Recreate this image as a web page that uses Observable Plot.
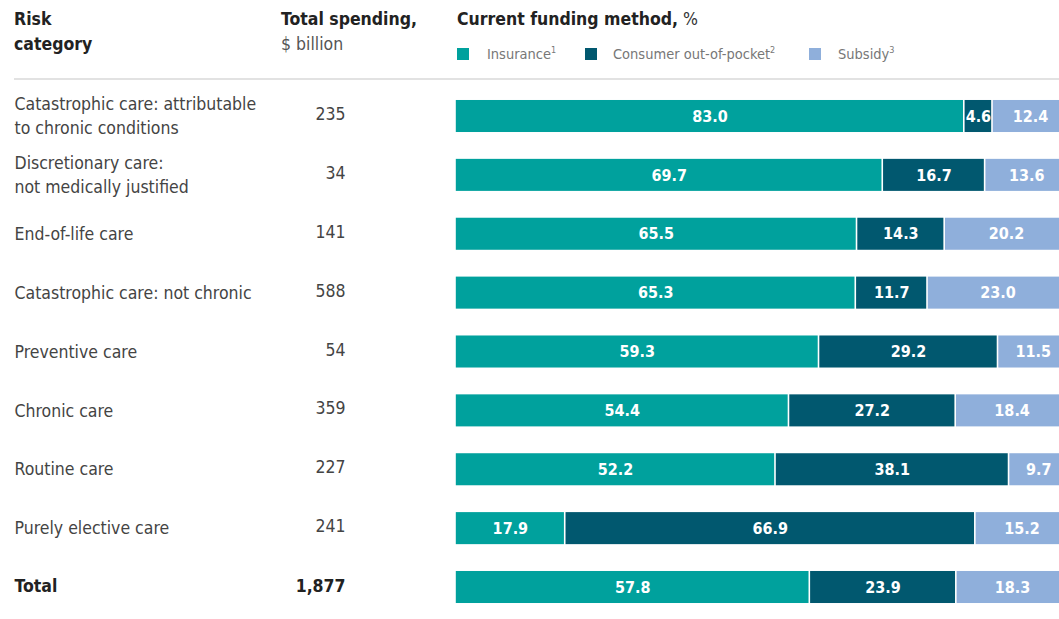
<!DOCTYPE html>
<html>
<head>
<meta charset="utf-8">
<script src="https://cdn.jsdelivr.net/npm/d3@7"></script>
<script src="https://cdn.jsdelivr.net/npm/@observablehq/plot@0.6"></script>
<style>
  html, body { margin: 0; padding: 0; background: #fff; overflow: hidden; }
  body { width: 1059px; height: 619px; position: relative;
         font-family: "DejaVu Sans Condensed", "Liberation Sans Narrow", sans-serif; }
  #header { position: relative; height: 78px; border-bottom: 2px solid #e2e2e2; margin-left: 14px; }
  .h { position: absolute; top: 7px; font-size: 17.5px; line-height: 25px; color: #222; }
  .h b { font-weight: bold; }
  .h .sub { color: #555; font-weight: normal; }
  .leg { position: absolute; top: 45px; font-size: 14.5px; color: #777; white-space: nowrap; line-height: 18px; }
  .sw { position: absolute; top: 48px; width: 12px; height: 12px; }
  sup { font-size: 9px; vertical-align: 6px; line-height: 0; }
  #chart svg { overflow: hidden; display: block; }
</style>
</head>
<body>
<div id="header">
  <div class="h" style="left:0px"><b>Risk<br>category</b></div>
  <div class="h" style="left:267px"><b>Total spending,</b><br><span class="sub">$ billion</span></div>
  <div class="h" style="left:443px"><b>Current funding method,</b> <span class="sub" style="color:#333">%</span></div>
</div>
<div id="chart"></div>
<script>
const categories = [
  "Catastrophic care: attributable\nto chronic conditions",
  "Discretionary care:\nnot medically justified",
  "End-of-life care",
  "Catastrophic care: not chronic",
  "Preventive care",
  "Chronic care",
  "Routine care",
  "Purely elective care",
  "Total"
];
const spending = [235, 34, 141, 588, 54, 359, 227, 241, 1877];
const methods = ["Insurance", "Consumer out-of-pocket", "Subsidy"];
const footnotes = ["1", "2", "3"];
const colors = ["#00a19d", "#01586f", "#8fafdb"];
const insurance = [83.0, 69.7, 65.5, 65.3, 59.3, 54.4, 52.2, 17.9, 57.8];
const outOfPocket = [4.6, 16.7, 14.3, 11.7, 29.2, 27.2, 38.1, 66.9, 23.9];
const subsidy = [12.4, 13.6, 20.2, 23.0, 11.5, 18.4, 9.7, 15.2, 18.3];

// legend
const header = document.getElementById("header");
const swX = [443, 571, 795];
const txX = [473, 599, 824];
methods.forEach((m, i) => {
  const s = document.createElement("div");
  s.className = "sw"; s.style.left = swX[i] + "px"; s.style.background = colors[i];
  header.appendChild(s);
  const t = document.createElement("div");
  t.className = "leg"; t.style.left = txX[i] + "px";
  t.innerHTML = m + "<sup>" + footnotes[i] + "</sup>";
  header.appendChild(t);
});

const series = [insurance, outOfPocket, subsidy];
const data = [];
categories.forEach((c, ci) => {
  methods.forEach((m, mi) => data.push({cat: c, method: m, value: series[mi][ci]}));
});
const rows = categories.map((c, i) => ({cat: c, spending: spending[i]}));
const isTotal = d => d.cat === "Total";
const fmt = d3.format(",");

const n = categories.length, pad = 0.456, step = 58.875, c0 = 36;
const r0 = c0 - step * (1 + pad) / 2;
const r1 = r0 + step * (n + pad);

const plot = Plot.plot({
  width: 1059,
  height: 539,
  marginLeft: 0, marginRight: 0, marginTop: 0, marginBottom: 0,
  style: {fontFamily: '"DejaVu Sans Condensed", "Liberation Sans Narrow", sans-serif', overflow: "hidden"},
  x: {domain: [0, 100], range: [455, 1068], axis: null},
  y: {domain: categories, range: [r0, r1], padding: pad, round: false, axis: null},
  color: {domain: methods, range: colors},
  marks: [
    Plot.barX(data, Plot.stackX({x: "value", y: "cat", fill: "method", insetLeft: 0.8, insetRight: 0.8})),
    Plot.text(data, Plot.stackX({x: "value", y: "cat", text: d => d.value.toFixed(1),
      fill: "white", fontSize: 16, fontWeight: "bold"})),
    Plot.text(rows.filter(d => !isTotal(d)), {y: "cat", text: "cat", frameAnchor: "left", dx: 14, dy: -2,
      textAnchor: "start", fontSize: 17.5, lineHeight: 1.37, fill: "#444"}),
    Plot.text(rows.filter(isTotal), {y: "cat", text: "cat", frameAnchor: "left", dx: 14, dy: -1,
      textAnchor: "start", fontSize: 17.5, fontWeight: "bold", fill: "#222"}),
    Plot.text(rows.filter(d => !isTotal(d)), {y: "cat", text: d => fmt(d.spending), frameAnchor: "left", dx: 345, dy: -2,
      textAnchor: "end", fontSize: 17.5, fill: "#444"}),
    Plot.text(rows.filter(isTotal), {y: "cat", text: d => fmt(d.spending), frameAnchor: "left", dx: 345, dy: -1,
      textAnchor: "end", fontSize: 17.5, fontWeight: "bold", fill: "#222"})
  ]
});
document.getElementById("chart").appendChild(plot);
</script>
</body>
</html>
